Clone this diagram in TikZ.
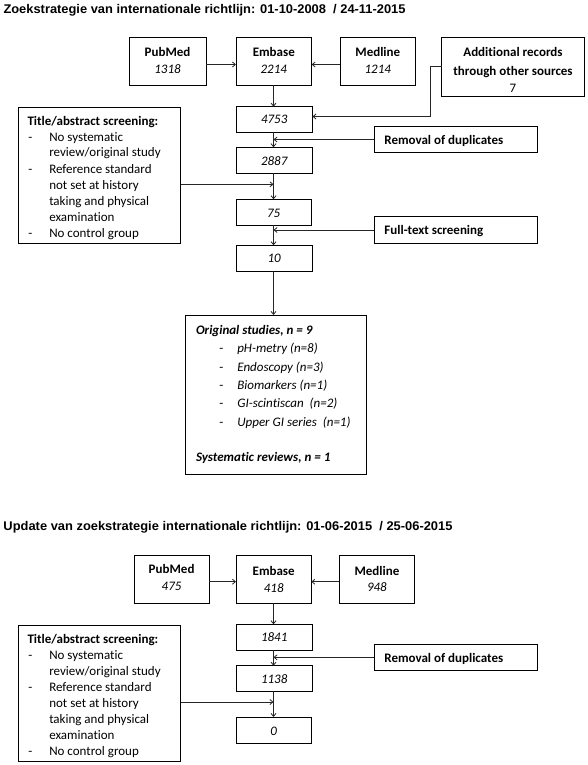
\documentclass[tikz,border=0pt]{standalone}
\usepackage{fontspec}
\usepackage{graphicx}
\setmainfont[Ligatures=NoCommon]{Carlito}
\newfontfamily\titlefont{Liberation Sans}
\usetikzlibrary{arrows.meta,fit}
\begin{document}
\begin{tikzpicture}[x=1pt,y=-1pt,
  box/.style={draw=black, line width=0.9pt, inner sep=0pt, outer sep=0pt, rectangle},
  txt/.style={inner sep=0pt, outer sep=0pt, anchor=base, font=\fontsize{13}{16}\selectfont},
  ltxt/.style={txt, anchor=base west},
  ttl/.style={inner sep=0pt, outer sep=0pt, anchor=base west, font=\titlefont\bfseries\fontsize{12.6}{14}\selectfont},
  arr/.style={draw=black!85, line width=0.8pt, -{Straight Barb[length=3pt,width=5pt]}}]
\useasboundingbox (0,0) rectangle (588,765);
\coordinate (sp) at (273.5,0);

% ---------- part 1 ----------
\node[ttl] (title1) at (3.5,13.3) {\resizebox{402pt}{\height}{Zoekstrategie van internationale richtlijn: 01-10-2008\ \ / 24-11-2015}};

\node[box, fit={(129,37) (206,85.5)}] (pub) {};
\node[txt] (pubA) at (167.5,56.5) {\bfseries PubMed};
\node[txt] (pubB) at (167.5,73.5) {\itshape 1318};

\node[box, fit={(236,37) (311.6,85.5)}] (emb) {};
\node[txt] (embA) at (273.8,56.5) {\bfseries Embase};
\node[txt] (embB) at (273.8,73.5) {\itshape 2214};

\node[box, fit={(340,37) (415.6,85.5)}] (med) {};
\node[txt] (medA) at (377.8,56.5) {\bfseries Medline};
\node[txt] (medB) at (377.8,73.5) {\itshape 1214};

\node[box, fit={(441.7,37.3) (584.2,96)}] (add) {};
\node[txt] (addA) at (513,56.5) {\bfseries Additional records};
\node[txt] (addB) at (513,75.5) {\bfseries through other sources};
\node[txt] (addC) at (513,92.5) {7};

\node[box, fit={(236,106.7) (312.4,132.3)}] (b4753) {};
\node[txt] (t4753) at (274.2,123.3) {\itshape 4753};

\node[box, fit={(18.5,107.5) (180.5,243.3)}] (tbox) {};
\node[ltxt] (tb0) at (27.5,125) {\bfseries Title/abstract screening:};
\node[ltxt] (tb1d) at (28.3,141) {-};
\node[ltxt] (tb1) at (49.3,141) {No systematic};
\node[ltxt] (tb2) at (49.3,157) {review/original study};
\node[ltxt] (tb3d) at (28.3,173) {-};
\node[ltxt] (tb3) at (49.3,173) {Reference standard};
\node[ltxt] (tb4) at (49.3,189) {not set at history};
\node[ltxt] (tb5) at (49.3,205) {taking and physical};
\node[ltxt] (tb6) at (49.3,221) {examination};
\node[ltxt] (tb7d) at (28.3,237) {-};
\node[ltxt] (tb7) at (49.3,237) {No control group};

\node[box, fit={(374.3,126.7) (537.4,152.3)}] (rem) {};
\node[ltxt] (remt) at (384.4,144.5) {\bfseries Removal of duplicates};

\node[box, fit={(236,147.3) (312.4,173.3)}] (b2887) {};
\node[txt] (t2887) at (274.2,165) {\itshape 2887};

\node[box, fit={(236,199.3) (311.3,225)}] (b75) {};
\node[txt] (t75) at (273.7,217) {\itshape 75};

\node[box, fit={(374.3,216.7) (537.4,243.3)}] (full) {};
\node[ltxt] (fullt) at (384.4,234.5) {\bfseries Full-text screening};

\node[box, fit={(236,245.3) (312.4,271.3)}] (b10) {};
\node[txt] (t10) at (274.2,262) {\itshape 10};

\node[box, fit={(185,315) (366.7,474.3)}] (orig) {};
\node[ltxt] (or0) at (196,334.5) {\bfseries\itshape Original studies, n = 9};
\node[ltxt] (or1d) at (219.3,352.5) {-};
\node[ltxt] (or1) at (237.3,352.5) {\itshape pH-metry (n=8)};
\node[ltxt] (or2d) at (219.3,371) {-};
\node[ltxt] (or2) at (237.3,371) {\itshape Endoscopy (n=3)};
\node[ltxt] (or3d) at (219.3,389.3) {-};
\node[ltxt] (or3) at (237.3,389.3) {\itshape Biomarkers (n=1)};
\node[ltxt] (or4d) at (219.3,407.5) {-};
\node[ltxt] (or4) at (237.3,407.5) {\itshape GI-scintiscan\ \ (n=2)};
\node[ltxt] (or5d) at (219.3,426) {-};
\node[ltxt] (or5) at (237.3,426) {\itshape Upper GI series\ \ (n=1)};
\node[ltxt] (or6) at (196,461) {\bfseries\itshape Systematic reviews, n = 1};

% connectors part 1
\coordinate (y1) at (0,64.5);
\draw[arr] (pub.east |- y1) -- (emb.west |- y1);
\draw[arr] (med.west |- y1) -- (emb.east |- y1);
\draw[arr] (emb.south -| sp) -- (b4753.north -| sp);
\coordinate (ya) at (0,116.5);
\draw[arr] (add.west) -- ++(-11.2,0) |- (b4753.east |- ya);
\draw[arr] (b4753.south -| sp) -- (b2887.north -| sp);
\draw[arr] (rem.west) -- (rem.west -| sp);
\draw[arr] (b2887.south -| sp) -- (b75.north -| sp);
\coordinate (yt) at (0,184.3);
\draw[arr] (tbox.east |- yt) -- (sp |- yt);
\draw[arr] (b75.south -| sp) -- (b10.north -| sp);
\draw[arr] (full.west) -- (full.west -| sp);
\draw[arr] (b10.south -| sp) -- (orig.north -| sp);

% ---------- part 2 ----------
\node[ttl] (title2) at (3.5,530) {\resizebox{449pt}{\height}{Update van zoekstrategie internationale richtlijn: 01-06-2015\ \ / 25-06-2015}};

\node[box, fit={(134,555.3) (209.3,603.3)}] (pub2) {};
\node[txt] (pub2A) at (171.6,573.5) {\bfseries PubMed};
\node[txt] (pub2B) at (171.6,590.3) {\itshape 475};

\node[box, fit={(236,555.3) (311.3,603.3)}] (emb2) {};
\node[txt] (emb2A) at (273.7,575) {\bfseries Embase};
\node[txt] (emb2B) at (273.7,592) {\itshape 418};

\node[box, fit={(339.4,555.3) (414.4,603.3)}] (med2) {};
\node[txt] (med2A) at (376.9,575.3) {\bfseries Medline};
\node[txt] (med2B) at (376.9,591.5) {\itshape 948};

\node[box, fit={(236,624.3) (312.4,650)}] (b1841) {};
\node[txt] (t1841) at (274.2,641.5) {\itshape 1841};

\node[box, fit={(18.5,625) (180.5,761.3)}] (tbox2) {};
\node[ltxt] (tc0) at (27.5,643) {\bfseries Title/abstract screening:};
\node[ltxt] (tc1d) at (28.3,659) {-};
\node[ltxt] (tc1) at (49.3,659) {No systematic};
\node[ltxt] (tc2) at (49.3,675) {review/original study};
\node[ltxt] (tc3d) at (28.3,691) {-};
\node[ltxt] (tc3) at (49.3,691) {Reference standard};
\node[ltxt] (tc4) at (49.3,707) {not set at history};
\node[ltxt] (tc5) at (49.3,723) {taking and physical};
\node[ltxt] (tc6) at (49.3,739) {examination};
\node[ltxt] (tc7d) at (28.3,755) {-};
\node[ltxt] (tc7) at (49.3,755) {No control group};

\node[box, fit={(374.3,644.3) (537.4,670.3)}] (rem2) {};
\node[ltxt] (rem2t) at (384.4,662) {\bfseries Removal of duplicates};

\node[box, fit={(236,665.7) (312.4,691.3)}] (b1138) {};
\node[txt] (t1138) at (274.2,683.5) {\itshape 1138};

\node[box, fit={(236,717) (311.3,743)}] (b0) {};
\node[txt] (t0) at (273.7,735.3) {\itshape 0};

% connectors part 2
\coordinate (y2) at (0,581.7);
\draw[arr] (pub2.east |- y2) -- (emb2.west |- y2);
\draw[arr] (med2.west |- y2) -- (emb2.east |- y2);
\draw[arr] (emb2.south -| sp) -- (b1841.north -| sp);
\draw[arr] (b1841.south -| sp) -- (b1138.north -| sp);
\draw[arr] (rem2.west) -- (rem2.west -| sp);
\coordinate (yt2) at (0,702);
\draw[arr] (tbox2.east |- yt2) -- (sp |- yt2);
\draw[arr] (b1138.south -| sp) -- (b0.north -| sp);
\end{tikzpicture}
\end{document}
